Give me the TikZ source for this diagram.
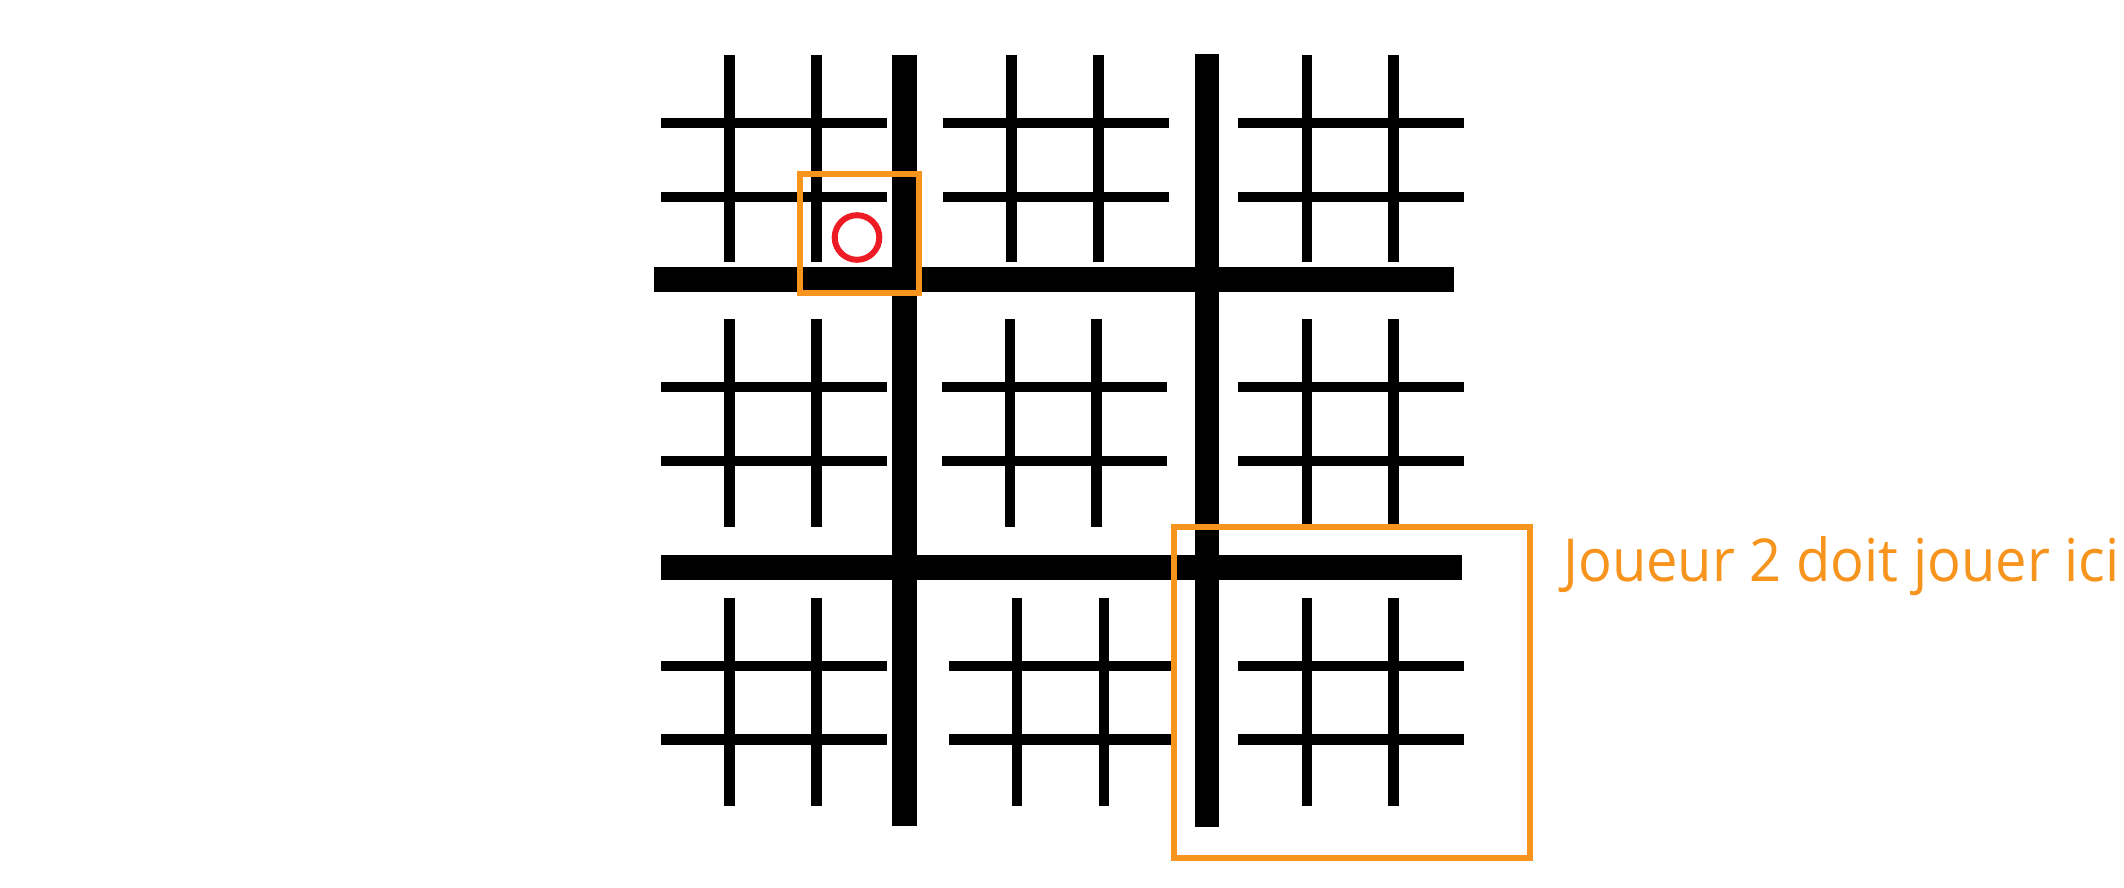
\documentclass[tikz,border=0pt]{standalone}
\usepackage{fontspec}
\setmainfont{Open Sans}
\usepackage{graphicx}
\definecolor{gorange}{HTML}{F7941D}
\definecolor{gred}{HTML}{ED1C24}
% #1,#2 vertical x; #3,#4 horizontal x-range; #5,#6 vertical y-range; #7,#8 horizontal y
\newcommand\minigrid[8]{%
  \draw[thinline] (#1,#5) -- (#1,#6) (#2,#5) -- (#2,#6)
                  (#3,#7) -- (#4,#7) (#3,#8) -- (#4,#8);}
\begin{document}
\begin{tikzpicture}[x=1pt,y=-1pt,
  thinline/.style={line width=10.4pt,line cap=butt},
  thickline/.style={line width=24.6pt,line cap=butt},
  marker/.style={draw=gorange,line width=6pt},
  playmark/.style={draw=gred,line width=6pt}]
\useasboundingbox[fill=white] (0,0) rectangle (2124,888);
% row 1
\minigrid{729.5}{816.6}{661.3}{886.7}{55.5}{262.3}{123}{196.8}
\minigrid{1011.5}{1098.3}{942.9}{1168.7}{55.5}{262.3}{123}{196.8}
\minigrid{1307}{1393.5}{1238.3}{1464}{55.5}{262.3}{123}{196.8}
% row 2
\minigrid{729.5}{816.6}{661.3}{886.7}{319}{527}{387}{461}
\minigrid{1009.7}{1096.5}{941.5}{1167}{319}{527}{387}{461}
\minigrid{1307}{1393.5}{1238.3}{1464}{319}{527}{387}{461}
% row 3
\minigrid{729.5}{816.6}{661.3}{886.7}{598}{806}{665.8}{739.5}
\minigrid{1017}{1103.8}{948.8}{1174}{598}{806}{665.8}{739.5}
\minigrid{1307}{1393.5}{1238.3}{1464}{598}{806}{665.8}{739.5}
% big grid
\draw[thickline] (904.5,55) -- (904.5,825.7);
\draw[thickline] (1207,54) -- (1207,827.3);
\draw[thickline] (654,279.2) -- (1454.3,279.2);
\draw[thickline] (661.3,567.3) -- (1462,567.3);
% highlights
\draw[marker] (800.2,174.3) rectangle (919,293);
\draw[marker] (1174,527.3) rectangle (1529.5,857.5);
\draw[playmark] (857,237.5) circle[radius=22.3];
\node[anchor=base west,inner sep=0pt,text=gorange] (label) at (1563,581)
  {\resizebox{556pt}{45pt}{Joueur 2 doit jouer ici}};
\end{tikzpicture}
\end{document}
